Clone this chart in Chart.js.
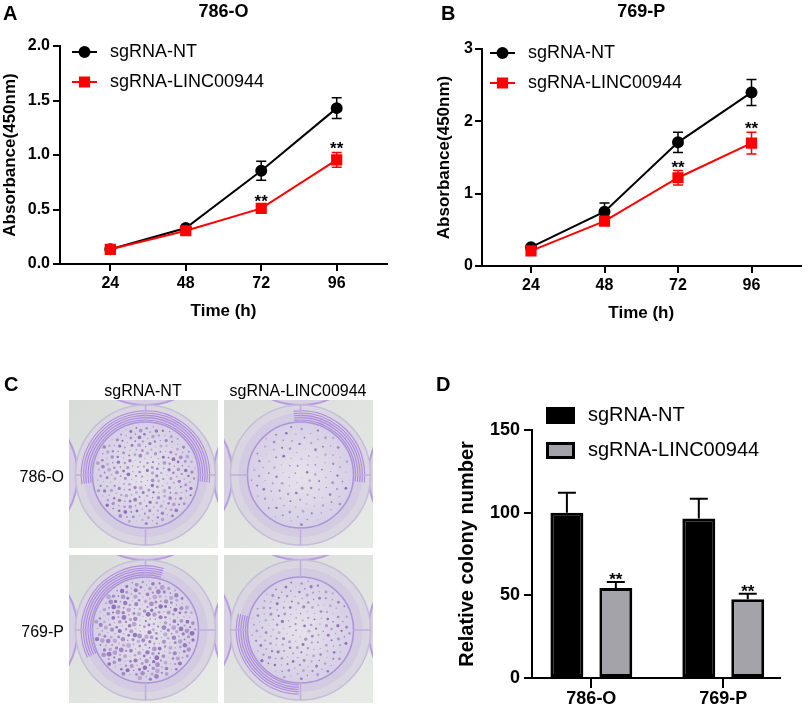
<!DOCTYPE html>
<html>
<head>
<meta charset="utf-8">
<script src="https://cdn.jsdelivr.net/npm/chart.js@4.4.1/dist/chart.umd.min.js"></script>
<style>
  body { margin: 0; background: #fff; }
  #page { position: relative; width: 809px; height: 709px; overflow: hidden; background: #fff;
          font-family: 'Liberation Sans', Arial, Helvetica, sans-serif; color: #000; }
  canvas { position: absolute; }
  .letter { position: absolute; font-weight: bold; font-size: 20px; line-height: 20px; }
  .lab { position: absolute; font-size: 16px; line-height: 20px; white-space: nowrap; }
  .lab.c { width: 200px; text-align: center; }
  .lab.r { width: 100px; text-align: right; }
</style>
</head>
<body>
<div id="page">
  <canvas id="chartA" width="400" height="330" style="left:0;top:0"></canvas>
  <canvas id="chartB" width="409" height="330" style="left:400px;top:0"></canvas>
  <canvas id="plates" width="420" height="379" style="left:0;top:330px"></canvas>
  <canvas id="chartD" width="389" height="379" style="left:420px;top:330px"></canvas>

  <div class="letter" style="left:3px;top:3px">A</div>
  <div class="letter" style="left:441px;top:3px">B</div>
  <div class="letter" style="left:4px;top:374px">C</div>
  <div class="letter" style="left:436px;top:374px">D</div>

  <div class="lab c" style="left:43px;top:381px">sgRNA-NT</div>
  <div class="lab c" style="left:198px;top:381px">sgRNA-LINC00944</div>
  <div class="lab r" style="left:-36px;top:467px">786-O</div>
  <div class="lab r" style="left:-36px;top:622px">769-P</div>
</div>

<script>
  'use strict';

  // ---- data ----
  var seriesNames = ['sgRNA-NT', 'sgRNA-LINC00944'];
  var timePoints = [24, 48, 72, 96];

  // A: 786-O CCK-8
  var absA_NT = [0.135, 0.33, 0.855, 1.43];
  var absA_NT_err = [0.01, 0.015, 0.087, 0.095];
  var absA_KD = [0.135, 0.305, 0.51, 0.955];
  var absA_KD_err = [0.01, 0.02, 0.03, 0.068];
  var starsA = ['', '', '**', '**'];
  var yTicksA = [0, 0.5, 1.0, 1.5, 2.0];

  // B: 769-P CCK-8
  var absB_NT = [0.26, 0.75, 1.71, 2.40];
  var absB_NT_err = [0.02, 0.12, 0.14, 0.18];
  var absB_KD = [0.21, 0.62, 1.22, 1.70];
  var absB_KD_err = [0.02, 0.05, 0.10, 0.15];
  var starsB = ['', '', '**', '**'];
  var yTicksB = [0, 1, 2, 3];

  // D: colony formation
  var cellLines = ['786-O', '769-P'];
  var colonyNT = [100, 96.5];
  var colonyNT_err = [12.1, 11.9];
  var colonyKD = [54.5, 47.7];
  var colonyKD_err = [3.5, 3.3];
  var starsD = ['**', '**'];
  var yTicksD = [0, 50, 100, 150];

  var RED = '#ff0000';
  var GREY = '#a3a3a9';

  Chart.defaults.font.family = "'Liberation Sans', Arial, Helvetica, sans-serif";
  Chart.defaults.color = '#000';

  function bold(size) { return { size: size, weight: 'bold' }; }
  function toPoints(xs, ys) { return xs.map(function (x, i) { return { x: x, y: ys[i] }; }); }
  function fixedTicks(values) {
    return function (scale) { scale.ticks = values.map(function (v) { return { value: v }; }); };
  }
  function axisLine(tickLength) {
    return {
      offset: false,
      border: { display: true, color: '#000', width: 2 },
      grid: { display: true, offset: false, drawOnChartArea: false, drawTicks: true, tickLength: tickLength, color: '#000', lineWidth: 2 }
    };
  }
  function extend(a, b) { for (var k in b) a[k] = b[k]; return a; }

  // ---- plugins ----
  var panelTitle = {
    id: 'panelTitle',
    afterDraw: function (chart, args, opts) {
      if (!opts.text) return;
      var ctx = chart.ctx, ca = chart.chartArea;
      ctx.save();
      ctx.font = 'bold 18px ' + Chart.defaults.font.family;
      ctx.fillStyle = '#000';
      ctx.textAlign = 'center';
      ctx.textBaseline = 'middle';
      ctx.fillText(opts.text, (ca.left + ca.right) / 2, opts.y);
      ctx.restore();
    }
  };

  function drawErrorBars(chart, opts) {
    var ctx = chart.ctx, yScale = chart.scales.y;
    ctx.save();
    ctx.lineWidth = opts.lineWidth;
    chart.data.datasets.forEach(function (ds, di) {
      if (!ds.errors) return;
      var meta = chart.getDatasetMeta(di);
      ctx.strokeStyle = ds.errorColor || ds.borderColor;
      meta.data.forEach(function (el, i) {
        var v = ds.data[i].y, e = ds.errors[i];
        var top = yScale.getPixelForValue(v + e);
        var bot = opts.mode === 'up' ? el.y : yScale.getPixelForValue(v - e);
        ctx.beginPath();
        ctx.moveTo(el.x, top); ctx.lineTo(el.x, bot);
        ctx.moveTo(el.x - opts.cap, top); ctx.lineTo(el.x + opts.cap, top);
        if (opts.mode !== 'up') { ctx.moveTo(el.x - opts.cap, bot); ctx.lineTo(el.x + opts.cap, bot); }
        ctx.stroke();
      });
    });
    ctx.restore();
  }
  var errorBars = {
    id: 'errorBars',
    beforeDatasetsDraw: function (chart, args, opts) { if (opts.mode === 'both') drawErrorBars(chart, opts); },
    afterDatasetsDraw: function (chart, args, opts) { if (opts.mode === 'up') drawErrorBars(chart, opts); }
  };

  var sigStars = {
    id: 'sigStars',
    afterDatasetsDraw: function (chart, args, opts) {
      var ctx = chart.ctx, yScale = chart.scales.y;
      var ds = chart.data.datasets[opts.datasetIndex];
      var meta = chart.getDatasetMeta(opts.datasetIndex);
      ctx.save();
      ctx.font = 'bold 17px ' + Chart.defaults.font.family;
      ctx.fillStyle = '#000';
      ctx.textAlign = 'center';
      ctx.textBaseline = 'alphabetic';
      meta.data.forEach(function (el, i) {
        if (!opts.labels[i]) return;
        var top = yScale.getPixelForValue(ds.data[i].y + ds.errors[i]);
        ctx.fillText(opts.labels[i], el.x, top + opts.offset);
      });
      ctx.restore();
    }
  };

  var lineKey = {
    id: 'lineKey',
    afterDraw: function (chart, args, opts) {
      var ctx = chart.ctx;
      ctx.save();
      ctx.font = '18px ' + Chart.defaults.font.family;
      ctx.textBaseline = 'middle';
      chart.data.datasets.forEach(function (ds, i) {
        var y = opts.y[i];
        ctx.strokeStyle = ds.borderColor;
        ctx.fillStyle = ds.backgroundColor;
        ctx.lineWidth = ds.borderWidth;
        ctx.beginPath();
        ctx.moveTo(opts.x, y); ctx.lineTo(opts.x + opts.len, y);
        ctx.stroke();
        Chart.helpers.drawPoint(ctx, { pointStyle: ds.pointStyle, radius: ds.pointRadius, rotation: 0, borderWidth: 1 },
          opts.x + opts.len / 2, y);
        ctx.fillStyle = '#000';
        ctx.fillText(ds.label, opts.textX, y);
      });
      ctx.restore();
    }
  };

  var boxKey = {
    id: 'boxKey',
    afterDraw: function (chart, args, opts) {
      var ctx = chart.ctx;
      ctx.save();
      ctx.font = '20px ' + Chart.defaults.font.family;
      ctx.textBaseline = 'middle';
      chart.data.datasets.forEach(function (ds, i) {
        var y = opts.y[i];
        ctx.fillStyle = ds.borderColor;
        ctx.fillRect(opts.x, y - opts.h / 2, opts.w, opts.h);
        ctx.fillStyle = ds.backgroundColor;
        ctx.fillRect(opts.x + 3, y - opts.h / 2 + 3, opts.w - 6, opts.h - 6);
        ctx.fillStyle = '#000';
        ctx.fillText(ds.label, opts.textX, y);
      });
      ctx.restore();
    }
  };

  // ---- growth curves (A, B) ----
  function growthChart(id, c) {
    return new Chart(document.getElementById(id), {
      type: 'line',
      data: {
        datasets: [
          { label: seriesNames[0], data: toPoints(timePoints, c.nt), errors: c.ntErr,
            borderColor: '#000', backgroundColor: '#000', borderWidth: 2,
            pointStyle: 'circle', pointRadius: 5, pointHoverRadius: 5, order: 1 },
          { label: seriesNames[1], data: toPoints(timePoints, c.kd), errors: c.kdErr,
            borderColor: RED, backgroundColor: RED, borderWidth: 2,
            pointStyle: 'rect', pointRadius: 6.5, pointHoverRadius: 6.5, order: 0 }
        ]
      },
      options: {
        responsive: false,
        animation: false,
        events: [],
        layout: { padding: c.padding },
        scales: {
          x: extend({
            type: 'linear', min: 8, max: 112,
            afterBuildTicks: fixedTicks(timePoints),
            afterFit: function (s) { s.height = c.xHeight; },
            ticks: { font: bold(16), padding: 3, color: '#000' },
            title: { display: true, text: 'Time (h)', font: bold(17), color: '#000', padding: { top: 0, bottom: c.xTitlePad } }
          }, axisLine(7)),
          y: extend({
            type: 'linear', min: c.yTicks[0], max: c.yTicks[c.yTicks.length - 1],
            afterBuildTicks: fixedTicks(c.yTicks),
            afterFit: function (s) { s.width = c.yWidth; },
            ticks: { font: bold(16), padding: c.yTickPad, color: '#000', callback: c.fmt },
            title: { display: true, text: 'Absorbance(450nm)', font: bold(17), color: '#000', padding: { top: c.yTitlePad, bottom: 0 } }
          }, axisLine(7))
        },
        plugins: {
          legend: { display: false },
          tooltip: { enabled: false },
          panelTitle: { text: c.title, y: 12 },
          errorBars: { mode: 'both', cap: 5, lineWidth: 1.5 },
          sigStars: { datasetIndex: 1, labels: c.stars, offset: 2 },
          lineKey: c.key
        }
      },
      plugins: [panelTitle, errorBars, sigStars, lineKey]
    });
  }

  growthChart('chartA', {
    title: '786-O', nt: absA_NT, ntErr: absA_NT_err, kd: absA_KD, kdErr: absA_KD_err,
    stars: starsA, yTicks: yTicksA, fmt: function (v) { return v.toFixed(1); },
    padding: { left: 0, top: 46, right: 13, bottom: 0 },
    xHeight: 66, xTitlePad: 8, yWidth: 60, yTickPad: 3, yTitlePad: 0,
    key: { x: 72, len: 25, textX: 110, y: [52, 82] }
  });

  growthChart('chartB', {
    title: '769-P', nt: absB_NT, ntErr: absB_NT_err, kd: absB_KD, kdErr: absB_KD_err,
    stars: starsB, yTicks: yTicksB, fmt: function (v) { return String(v); },
    padding: { left: 0, top: 49, right: 3, bottom: 0 },
    xHeight: 64, xTitlePad: 6, yWidth: 82, yTickPad: 2, yTitlePad: 34,
    key: { x: 90, len: 25, textX: 128, y: [53, 83] }
  });

  // ---- colony counts (D) ----
  var groupIndex = cellLines.map(function (name, i) { return i; });
  new Chart(document.getElementById('chartD'), {
    type: 'bar',
    data: {
      datasets: [
        { label: seriesNames[0], data: toPoints(groupIndex, colonyNT), errors: colonyNT_err, errorColor: '#000',
          backgroundColor: '#000', borderColor: '#000', borderWidth: 3, borderSkipped: false },
        { label: seriesNames[1], data: toPoints(groupIndex, colonyKD), errors: colonyKD_err, errorColor: '#000',
          backgroundColor: GREY, borderColor: '#000', borderWidth: 3, borderSkipped: false }
      ]
    },
    options: {
      responsive: false,
      animation: false,
      events: [],
      datasets: { bar: { categoryPercentage: 0.742, barPercentage: 0.673 } },
      layout: { padding: { left: 0, top: 100, right: 29, bottom: 0 } },
      scales: {
        x: extend({
          type: 'linear', min: -0.45, max: 1.43,
          afterBuildTicks: fixedTicks(groupIndex),
          afterFit: function (s) { s.height = 31; },
          ticks: { font: bold(18), padding: 0, color: '#000',
                   callback: function (v) { return cellLines[Math.round(v)]; } }
        }, axisLine(10)),
        y: extend({
          type: 'linear', min: 0, max: 150,
          afterBuildTicks: fixedTicks(yTicksD),
          afterFit: function (s) { s.width = 112; },
          ticks: { font: bold(18), padding: 4, color: '#000' },
          title: { display: true, text: 'Relative colony number', font: bold(20), color: '#000', padding: { top: 35, bottom: 0 } }
        }, axisLine(8))
      },
      plugins: {
        legend: { display: false },
        tooltip: { enabled: false },
        errorBars: { mode: 'up', cap: 9, lineWidth: 2 },
        sigStars: { datasetIndex: 1, labels: starsD, offset: 3 },
        boxKey: { x: 126, w: 29, h: 17, textX: 168, y: [85.5, 120.5] }
      }
    },
    plugins: [errorBars, sigStars, boxKey]
  });

  // ---- C: stained plates (photo stand-ins) ----
  var plates = [
    { x: 69, y: 70, colonies: 260, size: 1.5, a0: 3.0, a1: 6.4, rot: 0.3 },
    { x: 224, y: 70, colonies: 120, size: 1.0, a0: 4.6, a1: 6.4, rot: 1.1 },
    { x: 69, y: 225, colonies: 300, size: 2.1, a0: 2.7, a1: 5.0, rot: 2.0 },
    { x: 224, y: 225, colonies: 190, size: 1.2, a0: 1.6, a1: 3.4, rot: 0.7 }
  ];

  function circle(ctx, x, y, r) { ctx.beginPath(); ctx.arc(x, y, r, 0, Math.PI * 2); }

  function drawPlate(ctx, p) {
    var w = 149, h = 148;
    var cx = p.x + w / 2 + 2, cy = p.y + h / 2 + 1;
    ctx.save();
    ctx.beginPath(); ctx.rect(p.x, p.y, w, h); ctx.clip();

    var g = ctx.createLinearGradient(p.x, p.y, p.x + w, p.y + h);
    g.addColorStop(0, '#d8dcd8'); g.addColorStop(1, '#e8eae7');
    ctx.fillStyle = g; ctx.fillRect(p.x, p.y, w, h);

    // neighbouring wells peeking in at the edges
    [[-140, 0], [140, 0], [0, -142]].forEach(function (n) {
      circle(ctx, cx + n[0], cy + n[1], 72);
      ctx.fillStyle = '#d6d0e2'; ctx.fill();
      ctx.strokeStyle = '#b89ee0'; ctx.lineWidth = 2; ctx.stroke();
    });

    // well wall
    circle(ctx, cx, cy, 70);
    ctx.fillStyle = '#d9d5e1'; ctx.fill();
    ctx.strokeStyle = '#c6bdd9'; ctx.lineWidth = 1.5; ctx.stroke();
    circle(ctx, cx, cy, 62);
    ctx.fillStyle = '#d3cbe2'; ctx.fill();

    // ridged grooves
    ctx.strokeStyle = 'rgba(160,115,220,0.75)';
    ctx.lineWidth = 1.1;
    for (var k = 0; k < 5; k++) {
      ctx.beginPath(); ctx.arc(cx, cy, 55 + k * 2.3, p.a0, p.a1); ctx.stroke();
    }

    // growth area
    circle(ctx, cx, cy, 53);
    var gi = ctx.createRadialGradient(cx, cy, 5, cx, cy, 53);
    gi.addColorStop(0, '#e4e0ea'); gi.addColorStop(1, '#d7cfe6');
    ctx.fillStyle = gi; ctx.fill();
    ctx.strokeStyle = '#ab94d8'; ctx.lineWidth = 1.5; ctx.stroke();

    // colonies spread on a sunflower spiral
    for (var i = 0; i < p.colonies; i++) {
      var r = 50 * Math.sqrt((i + 0.5) / p.colonies);
      var t = i * 2.39996323 + p.rot;
      var s = 0.5 + ((i * 37) % 11) / 11 * p.size;
      var a = 0.3 + ((i * 17) % 7) / 7 * 0.45;
      circle(ctx, cx + r * Math.cos(t), cy + r * Math.sin(t), s);
      ctx.fillStyle = 'rgba(110,70,165,' + a.toFixed(2) + ')';
      ctx.fill();
    }

    // notches on the rim
    ctx.strokeStyle = '#bfaedc'; ctx.lineWidth = 1.5;
    [0, Math.PI / 2, Math.PI, Math.PI * 1.5].forEach(function (ang) {
      ctx.beginPath();
      ctx.moveTo(cx + 53 * Math.cos(ang), cy + 53 * Math.sin(ang));
      ctx.lineTo(cx + 70 * Math.cos(ang), cy + 70 * Math.sin(ang));
      ctx.stroke();
    });
    ctx.restore();
  }

  var pctx = document.getElementById('plates').getContext('2d');
  plates.forEach(function (p) { drawPlate(pctx, p); });
</script>
</body>
</html>
